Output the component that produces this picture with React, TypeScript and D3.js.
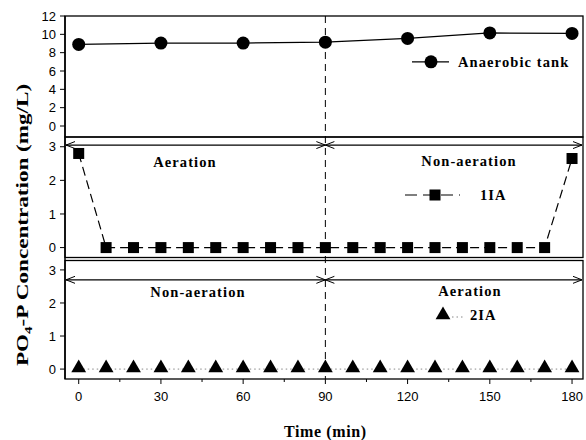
import React from "react";
import * as d3 from "d3";

// time axis
const xTicks = [0, 30, 60, 90, 120, 150, 180];
const xMinor = [15, 45, 75, 105, 135, 165];

// top panel: anaerobic tank
const anaTime = [0, 30, 60, 90, 120, 150, 180];
const anaVals = [8.9, 9.05, 9.05, 9.15, 9.55, 10.15, 10.1];

// middle panel: 1IA
const ia1Time = [0, 10, 20, 30, 40, 50, 60, 70, 80, 90, 100, 110, 120, 130, 140, 150, 160, 170, 180];
const ia1Vals = [2.8, 0, 0, 0, 0, 0, 0, 0, 0, 0, 0, 0, 0, 0, 0, 0, 0, 0, 2.65];

// bottom panel: 2IA
const ia2Time = [0, 10, 20, 30, 40, 50, 60, 70, 80, 90, 100, 110, 120, 130, 140, 150, 160, 170, 180];
const ia2Vals = [0, 0, 0, 0, 0, 0, 0, 0, 0, 0, 0, 0, 0, 0, 0, 0, 0, 0, 0];

const topTicks = [0, 2, 4, 6, 8, 10, 12];
const subTicks = [0, 1, 2, 3];

const L = 65, R = 583;
const tickFont = "'Liberation Sans', Arial, sans-serif";
const serif = "'Liberation Serif', 'Times New Roman', serif";

const x = d3.scaleLinear().domain([-5, 184]).range([L, R]);
const yTop = d3.scaleLinear().domain([-1.2, 12]).range([137, 16]);
const yMid = d3.scaleLinear().domain([-0.31, 3.29]).range([258, 137]);
const yBot = d3.scaleLinear().domain([-0.3, 3.3]).range([379, 260]);

const YAxis = ({ y, ticks }: { y: d3.ScaleLinear<number, number>; ticks: number[] }) => (
  <g>
    {ticks.map((t) => (
      <g key={t} transform={`translate(${L},${y(t)})`}>
        <line x1={-5} x2={0} stroke="#000" />
        <text x={-9} dy="0.36em" textAnchor="end" fontFamily={tickFont} fontSize={13}>
          {t}
        </text>
      </g>
    ))}
  </g>
);

const Arrow = ({ x1, x2, y }: { x1: number; x2: number; y: number }) => {
  const h = (px: number, dir: number) => (
    <path d={`M${px + dir * 9},${y - 3.5} L${px},${y} L${px + dir * 9},${y + 3.5}`} fill="none" stroke="#000" strokeWidth={1} />
  );
  return (
    <g>
      <line x1={x1} x2={x2} y1={y} y2={y} stroke="#000" strokeWidth={1.2} />
      {h(x1, 1)}
      {h(x2, -1)}
    </g>
  );
};

const Label = ({ x: lx, y: ly, children, anchor = "middle" }: any) => (
  <text x={lx} y={ly} textAnchor={anchor} fontFamily={serif} fontWeight="bold" fontSize={14.5} letterSpacing={1.1}>
    {children}
  </text>
);

export default function App() {
  const anaLine = d3.line<number>().x((_, i) => x(anaTime[i])).y((d) => yTop(d));
  const ia1Line = d3.line<number>().x((_, i) => x(ia1Time[i])).y((d) => yMid(d));
  const ia2Line = d3.line<number>().x((_, i) => x(ia2Time[i])).y((d) => yBot(d));
  const tri = d3.symbol().type(d3.symbolTriangle).size(95)();
  const x90 = x(90);

  return (
    <svg width={586} height={440} style={{ position: "absolute", left: 0, top: 0, background: "#fff" }}>
      {/* panel frames */}
      <rect x={L} y={16} width={R - L} height={137 - 16} fill="none" stroke="#000" strokeWidth={1.3} />
      <rect x={L} y={137} width={R - L} height={257.5 - 137} fill="none" stroke="#000" strokeWidth={1.3} />
      <rect x={L} y={260.5} width={R - L} height={379 - 260.5} fill="none" stroke="#000" strokeWidth={1.3} />
      <line x1={L} x2={L} y1={16} y2={379} stroke="#000" strokeWidth={1.5} />

      {/* divider at 90 min */}
      <line x1={x90} x2={x90} y1={16} y2={379} stroke="#000" strokeDasharray="7,5" strokeWidth={1} />

      <YAxis y={yTop} ticks={topTicks} />
      <YAxis y={yMid} ticks={subTicks} />
      <YAxis y={yBot} ticks={subTicks} />

      {/* x axis */}
      {xTicks.map((t) => (
        <g key={t} transform={`translate(${x(t)},379)`}>
          <line y2={5} stroke="#000" />
          <text y={22} textAnchor="middle" fontFamily={tickFont} fontSize={13}>
            {t}
          </text>
        </g>
      ))}
      {xMinor.map((t) => (
        <line key={t} x1={x(t)} x2={x(t)} y1={379} y2={382} stroke="#000" />
      ))}

      {/* top panel */}
      <path d={anaLine(anaVals) || ""} fill="none" stroke="#000" strokeWidth={1.3} />
      {anaVals.map((v, i) => (
        <circle key={i} cx={x(anaTime[i])} cy={yTop(v)} r={6.5} fill="#000" />
      ))}
      <line x1={412} x2={449} y1={yTop(7.0)} y2={yTop(7.0)} stroke="#000" strokeWidth={1.3} />
      <circle cx={431} cy={yTop(7.0)} r={6.5} fill="#000" />
      <Label x={458} y={yTop(7.0) + 5} anchor="start">Anaerobic tank</Label>

      {/* middle panel */}
      <Arrow x1={L + 1} x2={x90} y={yMid(3.05)} />
      <Arrow x1={x90} x2={R - 1} y={yMid(3.05)} />
      <Label x={185} y={167}>Aeration</Label>
      <Label x={469} y={166}>Non-aeration</Label>
      <path d={ia1Line(ia1Vals) || ""} fill="none" stroke="#000" strokeWidth={1.2} strokeDasharray="9,5" />
      {ia1Vals.map((v, i) => (
        <rect key={i} x={x(ia1Time[i]) - 5.5} y={yMid(v) - 5.5} width={11} height={11} fill="#000" />
      ))}
      <line x1={405} x2={460} y1={195} y2={195} stroke="#000" strokeWidth={1.2} strokeDasharray="12,6" />
      <rect x={429.5} y={189.5} width={11} height={11} fill="#000" />
      <Label x={480} y={200} anchor="start">1IA</Label>

      {/* bottom panel */}
      <Arrow x1={L + 1} x2={x90} y={yBot(2.7)} />
      <Arrow x1={x90} x2={R - 1} y={yBot(2.7)} />
      <Label x={198} y={297}>Non-aeration</Label>
      <Label x={470} y={296}>Aeration</Label>
      <path d={ia2Line(ia2Vals) || ""} fill="none" stroke="#888" strokeWidth={1} strokeDasharray="1.5,3" />
      {ia2Vals.map((v, i) => (
        <path key={i} d={tri || ""} transform={`translate(${x(ia2Time[i])},${yBot(v) - 1})`} fill="#000" />
      ))}
      <path d={tri || ""} transform="translate(443,315)" fill="#000" />
      <line x1={452} x2={464} y1={317} y2={317} stroke="#888" strokeDasharray="1.5,3" />
      <Label x={470} y={320} anchor="start">2IA</Label>

      {/* axis titles */}
      <text x={x90} y={437} textAnchor="middle" fontFamily={serif} fontWeight="bold" fontSize={16} letterSpacing={0.6}>
        Time (min)
      </text>
      <text transform="translate(28,225) rotate(-90) scale(1.36,1)" textAnchor="middle" fontFamily={serif} fontWeight="bold" fontSize={17}>
        PO<tspan fontSize={11} dy={4}>4</tspan>
        <tspan dy={-4}>-P Concentration (mg/L)</tspan>
      </text>
    </svg>
  );
}
